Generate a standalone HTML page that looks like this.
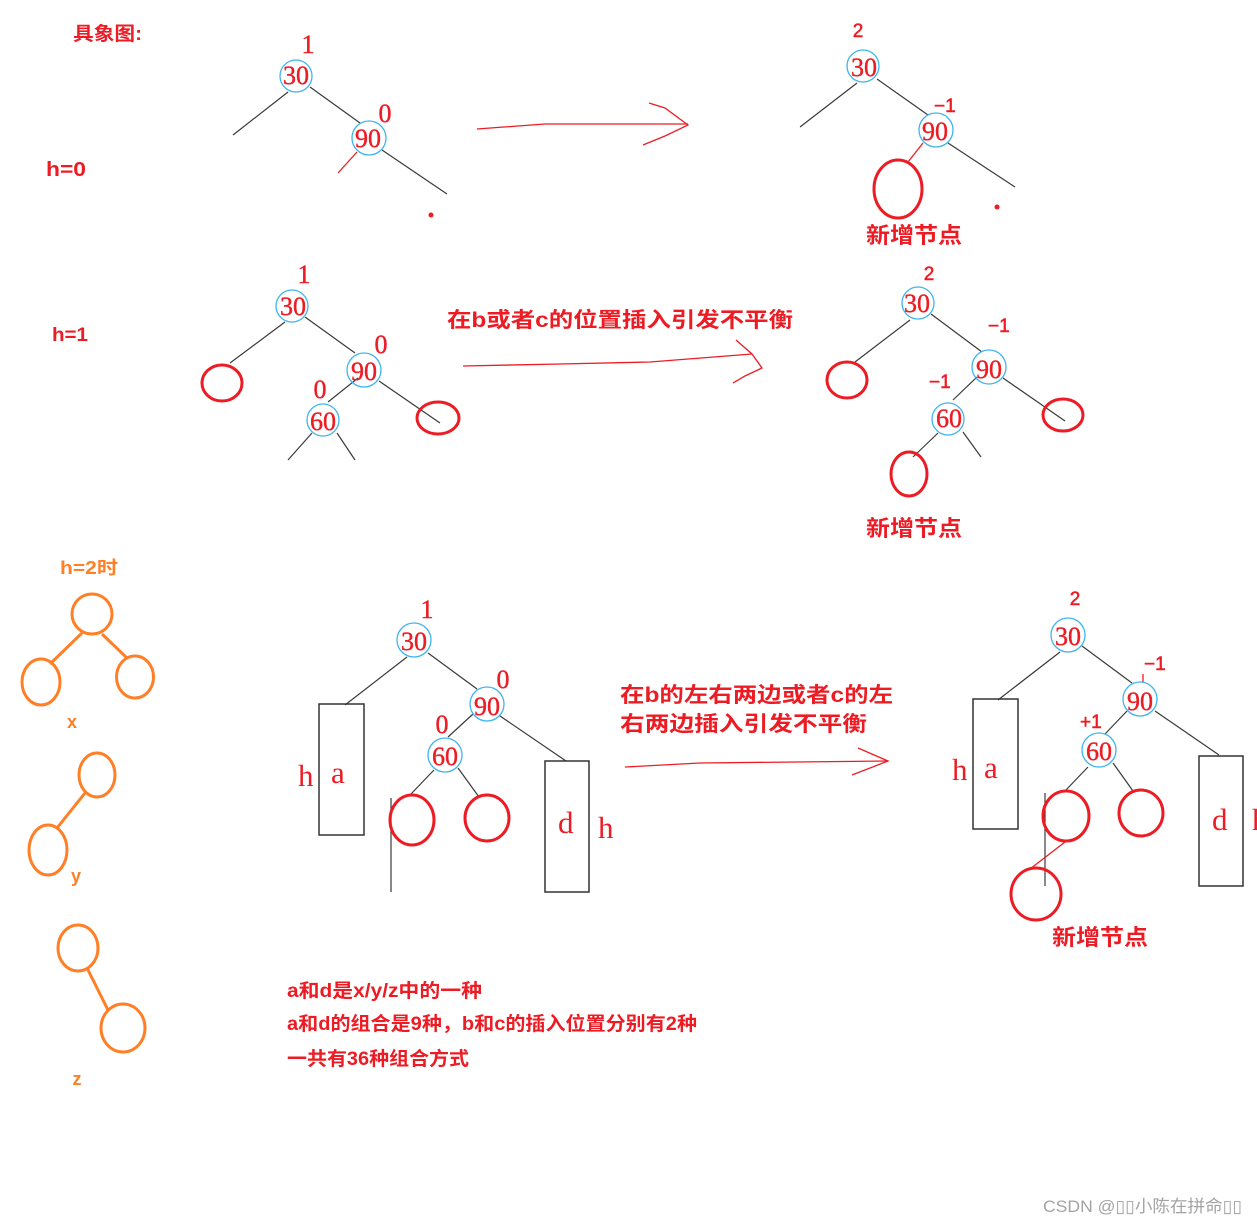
<!DOCTYPE html>
<html><head><meta charset="utf-8">
<style>
html,body{margin:0;padding:0;background:#fff;}
svg{display:block;}
.n{font-family:"Liberation Serif",serif;font-size:26px;fill:#ed1c24;text-anchor:middle;stroke:#ed1c24;stroke-width:0.4;}
.ns{font-family:"Liberation Sans",sans-serif;font-size:19px;fill:#ed1c24;stroke:#ed1c24;stroke-width:0.5;}
.lt{font-family:"Liberation Serif",serif;font-size:31px;fill:#ed1c24;}
.b{font-family:"Liberation Sans","Noto Sans CJK SC",sans-serif;font-weight:bold;fill:#ed1c24;}
.o{font-family:"Liberation Sans","Noto Sans CJK SC",sans-serif;font-weight:bold;fill:#ff7f27;}
.bc{fill:none;stroke:#3db5ee;stroke-width:1.3;}
.ln{stroke:#3a3a3a;stroke-width:1.2;fill:none;}
.re{fill:none;stroke:#ed1c24;stroke-width:3;}
.rl{stroke:#ed1c24;stroke-width:1.3;fill:none;}
.oe{fill:none;stroke:#ff7f27;stroke-width:3;}
.rect{fill:none;stroke:#333;stroke-width:1.5;}
</style></head><body>
<svg width="1257" height="1224" viewBox="0 0 1257 1224" xmlns="http://www.w3.org/2000/svg">

<!-- ===== Section 1 ===== -->
<text class="b" x="73" y="40" font-size="19" textLength="69" lengthAdjust="spacingAndGlyphs">具象图:</text>
<text class="b" x="46" y="176" font-size="20" textLength="40" lengthAdjust="spacingAndGlyphs">h=0</text>

<!-- left tree -->
<line class="ln" x1="288" y1="92" x2="233" y2="135"/>
<line class="ln" x1="310" y1="87" x2="360" y2="123"/>
<line class="ln" x1="382" y1="150" x2="447" y2="194"/>
<line class="rl" x1="357" y1="152" x2="338" y2="173"/>
<circle cx="431" cy="215" r="2.5" fill="#ed1c24"/>
<circle class="bc" cx="296" cy="76" r="16"/>
<text class="n" x="296" y="84">30</text>
<text class="n" x="308" y="53">1</text>
<circle class="bc" cx="369" cy="138" r="17"/>
<text class="n" x="368" y="147">90</text>
<text class="n" x="385" y="122">0</text>

<!-- arrow 1 -->
<polyline class="rl" points="477,129 545,124 688,124"/>
<polyline class="rl" points="649,103 665,108 688,125 665,136 643,145"/>

<!-- right tree 1 -->
<line class="ln" x1="857" y1="83" x2="800" y2="127"/>
<line class="ln" x1="877" y1="79" x2="928" y2="115"/>
<line class="ln" x1="948" y1="143" x2="1015" y2="187"/>
<line class="rl" x1="923" y1="143" x2="908" y2="162"/>
<circle cx="997" cy="207" r="2.5" fill="#ed1c24"/>
<circle class="bc" cx="863" cy="66" r="16"/>
<text class="n" x="864" y="76">30</text>
<text class="ns" x="858" y="37" text-anchor="middle">2</text>
<circle class="bc" cx="936" cy="130" r="17"/>
<text class="n" x="935" y="140">90</text>
<text class="ns" x="934" y="112">−1</text>
<ellipse class="re" cx="898" cy="189" rx="24" ry="29"/>
<text class="b" x="866" y="243" font-size="22" textLength="96" lengthAdjust="spacingAndGlyphs">新增节点</text>

<!-- ===== Section 2 ===== -->
<text class="b" x="52" y="341" font-size="19" textLength="36" lengthAdjust="spacingAndGlyphs">h=1</text>

<!-- left tree -->
<line class="ln" x1="285" y1="322" x2="230" y2="363"/>
<line class="ln" x1="305" y1="317" x2="355" y2="353"/>
<line class="ln" x1="379" y1="381" x2="440" y2="423"/>
<line class="ln" x1="358" y1="378" x2="328" y2="402"/>
<line class="ln" x1="312" y1="433" x2="288" y2="460"/>
<line class="ln" x1="337" y1="433" x2="355" y2="460"/>
<ellipse class="re" cx="222" cy="383" rx="20" ry="18"/>
<ellipse class="re" cx="438" cy="418" rx="21" ry="16"/>
<circle class="bc" cx="292" cy="306" r="16"/>
<text class="n" x="293" y="315">30</text>
<text class="n" x="304" y="283">1</text>
<circle class="bc" cx="364" cy="370" r="17"/>
<text class="n" x="364" y="380">90</text>
<text class="n" x="381" y="353">0</text>
<circle class="bc" cx="323" cy="420" r="16"/>
<text class="n" x="323" y="430">60</text>
<text class="n" x="320" y="398">0</text>

<!-- arrow 2 + text -->
<text class="b" x="447" y="327" font-size="21" textLength="346" lengthAdjust="spacingAndGlyphs">在b或者c的位置插入引发不平衡</text>
<polyline class="rl" points="463,366 560,364 650,362 752,354"/>
<polyline class="rl" points="736,340 752,354 762,368 745,376 733,383"/>

<!-- right tree 2 -->
<line class="ln" x1="910" y1="320" x2="855" y2="362"/>
<line class="ln" x1="931" y1="314" x2="982" y2="352"/>
<line class="ln" x1="1003" y1="378" x2="1065" y2="421"/>
<line class="ln" x1="977" y1="377" x2="953" y2="400"/>
<line class="ln" x1="938" y1="433" x2="913" y2="457"/>
<line class="ln" x1="963" y1="432" x2="981" y2="457"/>
<ellipse class="re" cx="847" cy="380" rx="20" ry="18"/>
<ellipse class="re" cx="1063" cy="415" rx="20" ry="16"/>
<ellipse class="re" cx="909" cy="474" rx="18" ry="22"/>
<circle class="bc" cx="918" cy="303" r="16"/>
<text class="n" x="917" y="312">30</text>
<text class="ns" x="929" y="280" text-anchor="middle">2</text>
<circle class="bc" cx="989" cy="367" r="17"/>
<text class="n" x="989" y="378">90</text>
<text class="ns" x="988" y="332">−1</text>
<circle class="bc" cx="948" cy="419" r="16"/>
<text class="n" x="949" y="427">60</text>
<text class="ns" x="929" y="388">−1</text>
<text class="b" x="866" y="536" font-size="22" textLength="96" lengthAdjust="spacingAndGlyphs">新增节点</text>

<!-- ===== Section 3 ===== -->
<text class="o" x="60" y="574" font-size="18" textLength="58" lengthAdjust="spacingAndGlyphs">h=2时</text>
<!-- x -->
<line class="oe" x1="82" y1="633" x2="50" y2="664"/>
<line class="oe" x1="102" y1="634" x2="127" y2="658"/>
<ellipse class="oe" cx="92" cy="614" rx="20" ry="20"/>
<ellipse class="oe" cx="41" cy="682" rx="19" ry="23"/>
<ellipse class="oe" cx="135" cy="677" rx="18.5" ry="21"/>
<text class="o" x="72" y="728" font-size="18" text-anchor="middle">x</text>
<!-- y -->
<line class="oe" x1="85" y1="793" x2="57" y2="828"/>
<ellipse class="oe" cx="97" cy="775" rx="18" ry="22"/>
<ellipse class="oe" cx="48" cy="850" rx="19" ry="25"/>
<text class="o" x="76" y="882" font-size="18" text-anchor="middle">y</text>
<!-- z -->
<line class="oe" x1="87" y1="968" x2="108" y2="1010"/>
<ellipse class="oe" cx="78" cy="948" rx="20" ry="23"/>
<ellipse class="oe" cx="123" cy="1028" rx="22" ry="24"/>
<text class="o" x="77" y="1085" font-size="18" text-anchor="middle">z</text>

<!-- left tree 3 -->
<line class="ln" x1="407" y1="657" x2="345" y2="705"/>
<line class="ln" x1="428" y1="653" x2="477" y2="689"/>
<line class="ln" x1="500" y1="716" x2="566" y2="761"/>
<line class="ln" x1="473" y1="714" x2="448" y2="737"/>
<line class="ln" x1="434" y1="770" x2="410" y2="795"/>
<line class="ln" x1="458" y1="768" x2="479" y2="797"/>
<line class="ln" x1="391" y1="798" x2="391" y2="892" stroke-width="1.5"/>
<rect class="rect" x="319" y="704" width="45" height="131"/>
<rect class="rect" x="545" y="761" width="44" height="131"/>
<text class="lt" x="298" y="786">h</text>
<text class="lt" x="331" y="783">a</text>
<text class="lt" x="558" y="833">d</text>
<text class="lt" x="598" y="838">h</text>
<ellipse class="re" cx="412" cy="820" rx="22" ry="25"/>
<ellipse class="re" cx="487" cy="818" rx="22" ry="23"/>
<circle class="bc" cx="414" cy="640" r="17"/>
<text class="n" x="414" y="650">30</text>
<text class="n" x="427" y="618">1</text>
<circle class="bc" cx="487" cy="704" r="17"/>
<text class="n" x="487" y="715">90</text>
<text class="n" x="503" y="688">0</text>
<circle class="bc" cx="445" cy="755" r="17"/>
<text class="n" x="445" y="765">60</text>
<text class="n" x="442" y="733">0</text>

<!-- arrow 3 + text -->
<text class="b" x="620" y="702" font-size="21" textLength="273" lengthAdjust="spacingAndGlyphs">在b的左右两边或者c的左</text>
<text class="b" x="620" y="731" font-size="21" textLength="247" lengthAdjust="spacingAndGlyphs">右两边插入引发不平衡</text>
<polyline class="rl" points="625,767 700,763 888,761"/>
<polyline class="rl" points="858,748 888,761 852,775"/>

<!-- right tree 3 -->
<line class="ln" x1="1060" y1="652" x2="998" y2="700"/>
<line class="ln" x1="1082" y1="646" x2="1132" y2="683"/>
<line class="ln" x1="1155" y1="711" x2="1219" y2="755"/>
<line class="ln" x1="1127" y1="711" x2="1105" y2="734"/>
<line class="ln" x1="1088" y1="767" x2="1065" y2="791"/>
<line class="ln" x1="1113" y1="763" x2="1133" y2="791"/>
<line class="ln" x1="1045" y1="793" x2="1045" y2="886" stroke-width="1.5"/>
<line class="rl" x1="1065" y1="842" x2="1030" y2="869"/>
<line class="rl" x1="1143" y1="674" x2="1143" y2="682"/>
<rect class="rect" x="973" y="699" width="45" height="130"/>
<rect class="rect" x="1199" y="756" width="44" height="130"/>
<text class="lt" x="952" y="780">h</text>
<text class="lt" x="984" y="778">a</text>
<text class="lt" x="1212" y="830">d</text>
<text class="lt" x="1252" y="830">h</text>
<ellipse class="re" cx="1066" cy="816" rx="23" ry="25"/>
<ellipse class="re" cx="1141" cy="813" rx="22" ry="23"/>
<ellipse class="re" cx="1036" cy="894" rx="25" ry="26"/>
<circle class="bc" cx="1068" cy="635" r="17"/>
<text class="n" x="1068" y="645">30</text>
<text class="ns" x="1075" y="605" text-anchor="middle">2</text>
<circle class="bc" cx="1140" cy="699" r="17"/>
<text class="n" x="1140" y="710">90</text>
<text class="ns" x="1144" y="670">−1</text>
<circle class="bc" cx="1099" cy="750" r="17"/>
<text class="n" x="1099" y="760">60</text>
<text class="ns" x="1080" y="728">+1</text>
<text class="b" x="1052" y="945" font-size="22" textLength="96" lengthAdjust="spacingAndGlyphs">新增节点</text>

<!-- bottom notes -->
<text class="b" x="287" y="997" font-size="19" textLength="195" lengthAdjust="spacingAndGlyphs">a和d是x/y/z中的一种</text>
<text class="b" x="287" y="1030" font-size="19" textLength="410" lengthAdjust="spacingAndGlyphs">a和d的组合是9种，b和c的插入位置分别有2种</text>
<text class="b" x="287" y="1065" font-size="19" textLength="182" lengthAdjust="spacingAndGlyphs">一共有36种组合方式</text>

<!-- watermark -->
<text x="1043" y="1212" font-family="Liberation Sans,Noto Sans CJK SC,sans-serif" font-size="17" fill="#a3a3a3" textLength="199" lengthAdjust="spacingAndGlyphs">CSDN @▯▯小陈在拼命▯▯</text>
</svg>
</body></html>
